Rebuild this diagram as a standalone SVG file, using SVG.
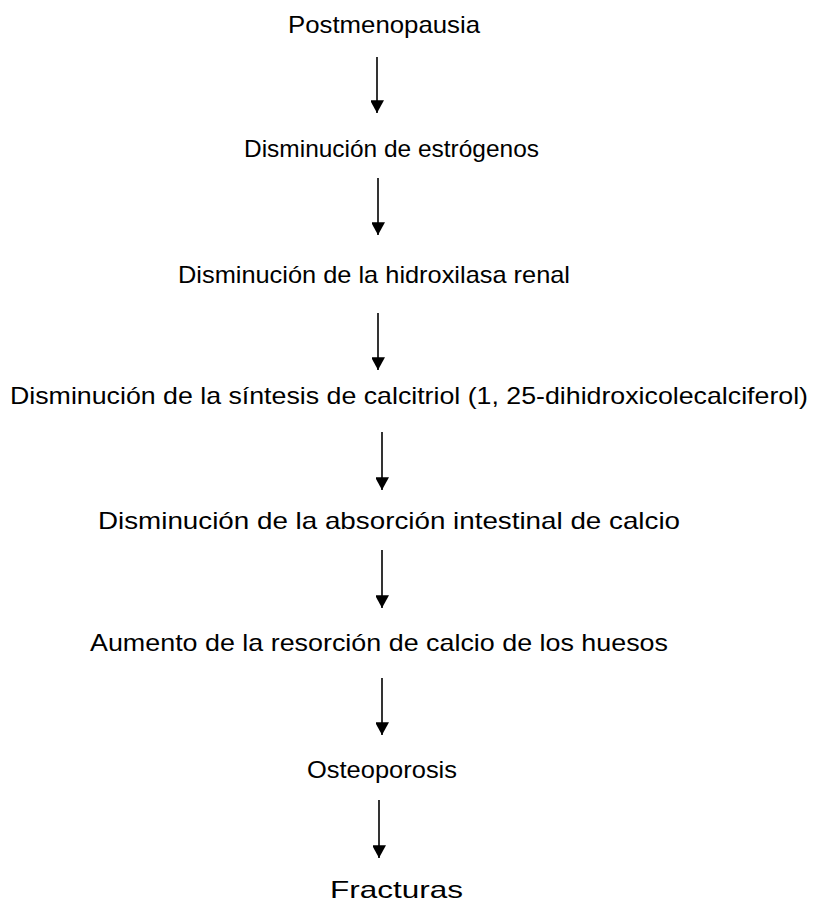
<svg xmlns="http://www.w3.org/2000/svg" width="817" height="906" viewBox="0 0 817 906">
<style>
  .t { font-family: "Liberation Sans", Arial, sans-serif; font-size: 24px; fill: #000; }
  .c { stroke: #000; stroke-width: 1.6; fill: none; }
</style>
<defs>
  <marker id="ah" markerUnits="userSpaceOnUse" markerWidth="14" markerHeight="14" viewBox="0 0 12 11" refX="11" refY="6" orient="auto">
    <path d="M0,0 L11,6 L0,12 Z" fill="#000"/>
  </marker>
</defs>
<rect width="817" height="906" fill="#fff"/>
<g id="n1"><text class="t" x="288" y="33" textLength="192" lengthAdjust="spacingAndGlyphs">Postmenopausia</text></g>
<g id="n2"><text class="t" x="244" y="157" textLength="295" lengthAdjust="spacingAndGlyphs">Disminución de estrógenos</text></g>
<g id="n3"><text class="t" x="178" y="283" textLength="392" lengthAdjust="spacingAndGlyphs">Disminución de la hidroxilasa renal</text></g>
<g id="n4"><text class="t" x="10" y="404" textLength="798" lengthAdjust="spacingAndGlyphs">Disminución de la síntesis de calcitriol (1, 25-dihidroxicolecalciferol)</text></g>
<g id="n5"><text class="t" x="98" y="529" textLength="582" lengthAdjust="spacingAndGlyphs">Disminución de la absorción intestinal de calcio</text></g>
<g id="n6"><text class="t" x="90" y="651" textLength="578" lengthAdjust="spacingAndGlyphs">Aumento de la resorción de calcio de los huesos</text></g>
<g id="n7"><text class="t" x="307" y="778" textLength="150" lengthAdjust="spacingAndGlyphs">Osteoporosis</text></g>
<g id="n8"><text class="t" x="330" y="898" textLength="133" lengthAdjust="spacingAndGlyphs">Fracturas</text></g>
<g id="connectors">
  <line class="c" x1="377" y1="57" x2="377" y2="113" marker-end="url(#ah)"/>
  <line class="c" x1="378" y1="178" x2="378" y2="235" marker-end="url(#ah)"/>
  <line class="c" x1="378" y1="313" x2="378" y2="370" marker-end="url(#ah)"/>
  <line class="c" x1="382" y1="432" x2="382" y2="490" marker-end="url(#ah)"/>
  <line class="c" x1="382" y1="550" x2="382" y2="608" marker-end="url(#ah)"/>
  <line class="c" x1="382" y1="678" x2="382" y2="735" marker-end="url(#ah)"/>
  <line class="c" x1="379" y1="800" x2="379" y2="858" marker-end="url(#ah)"/>
</g>
</svg>
